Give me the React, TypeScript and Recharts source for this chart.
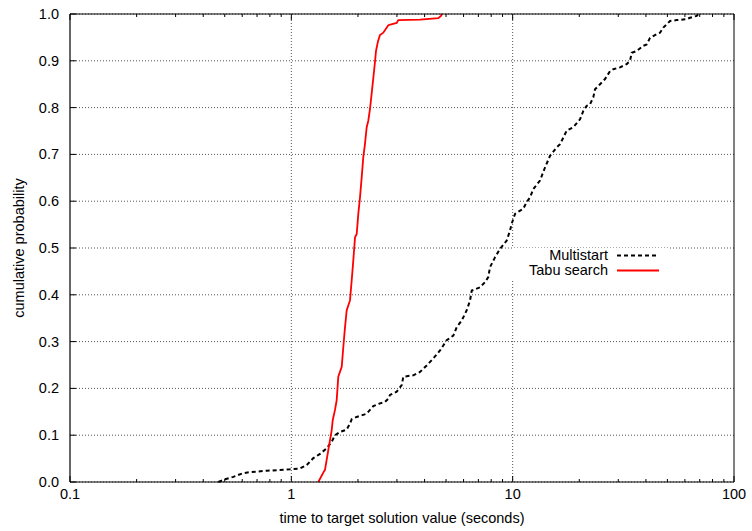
import { LineChart, Line, XAxis, YAxis, CartesianGrid, Legend, Label } from "recharts";

// time to target (seconds) and cumulative probability
const multistartTime = [
  0.468, 0.502, 0.547, 0.607, 0.651, 0.774, 0.986, 1.094, 1.173, 1.257, 1.348, 1.445,
  1.522, 1.575, 1.66, 1.779, 1.841, 1.874, 1.974, 2.19, 2.267, 2.346, 2.515, 2.65,
  2.742, 2.791, 2.993, 3.153, 3.206, 3.557, 3.813, 4.088, 4.38, 4.696, 5.035, 5.394,
  5.588, 5.886, 6.201, 6.419, 6.533, 7.119, 7.499, 7.761, 7.899, 8.32, 8.767, 9.399,
  9.727, 9.901, 10.25, 11.17, 11.57, 11.98, 12.4, 13.29, 14.0, 14.75, 15.81, 16.37,
  16.94, 17.55, 18.79, 20.15, 20.86, 21.61, 22.36, 23.14, 23.55, 24.81, 26.14, 27.54,
  28.5, 30.55, 32.75, 33.9, 34.5, 36.34, 38.93, 40.33, 41.74, 44.75, 46.31, 47.93,
  49.66, 51.4, 55.1, 61.14, 63.29, 67.85, 69.01,
];
const multistartProb = [
  0, 0.006, 0.011, 0.019, 0.021, 0.024, 0.027, 0.029, 0.036, 0.051, 0.06, 0.072,
  0.086, 0.1, 0.107, 0.112, 0.125, 0.134, 0.139, 0.146, 0.154, 0.162, 0.168, 0.171,
  0.178, 0.186, 0.193, 0.207, 0.225, 0.228, 0.235, 0.249, 0.264, 0.281, 0.303, 0.313,
  0.331, 0.345, 0.367, 0.388, 0.409, 0.416, 0.427, 0.438, 0.459, 0.48, 0.498, 0.516,
  0.537, 0.552, 0.573, 0.584, 0.598, 0.608, 0.626, 0.644, 0.672, 0.697, 0.715, 0.722,
  0.736, 0.751, 0.758, 0.775, 0.793, 0.804, 0.807, 0.822, 0.839, 0.85, 0.861, 0.878,
  0.882, 0.886, 0.893, 0.9, 0.917, 0.921, 0.932, 0.935, 0.949, 0.957, 0.96, 0.971,
  0.978, 0.985, 0.987, 0.989, 0.992, 0.996, 1.0,
];

const tabuTime = [
  1.324, 1.394, 1.419, 1.469, 1.522, 1.538, 1.575, 1.603, 1.63, 1.689, 1.717, 1.748,
  1.779, 1.841, 1.874, 1.905, 1.94, 1.974, 2.007, 2.043, 2.079, 2.114, 2.151, 2.19,
  2.227, 2.267, 2.339, 2.388, 2.413, 2.464, 2.515, 2.603, 2.742, 2.88, 2.993, 3.043,
  3.813, 4.613, 4.745, 4.795,
];
const tabuProb = [
  0, 0.02, 0.026, 0.068, 0.111, 0.132, 0.154, 0.175, 0.225, 0.246, 0.288, 0.331,
  0.367, 0.388, 0.431, 0.473, 0.523, 0.53, 0.573, 0.608, 0.651, 0.694, 0.722, 0.758,
  0.772, 0.797, 0.857, 0.898, 0.921, 0.942, 0.955, 0.96, 0.976, 0.979, 0.981, 0.987,
  0.988, 0.991, 0.996, 1.0,
];

const xMajorTicks = [0.1, 1, 10, 100];
const xMinorTicks = [
  0.2, 0.3, 0.4, 0.5, 0.6, 0.7, 0.8, 0.9,
  2, 3, 4, 5, 6, 7, 8, 9,
  20, 30, 40, 50, 60, 70, 80, 90,
];
const xGridValues = [1, 10];
const yTicks = [0, 0.1, 0.2, 0.3, 0.4, 0.5, 0.6, 0.7, 0.8, 0.9, 1.0];

const multistart = multistartTime.map((t, i) => ({ t, p: multistartProb[i] }));
const tabu = tabuTime.map((t, i) => ({ t, p: tabuProb[i] }));

const FONT = "'Liberation Sans', Arial, Helvetica, sans-serif";
const FS = 14.5;

const BottomTick = (props: any) => {
  const { x, y, payload } = props;
  const major = xMajorTicks.includes(payload.value);
  return (
    <g>
      <line x1={x} x2={x} y1={y} y2={y - (major ? 6 : 3)} stroke="#000" />
      {major && (
        <text x={x} y={y + 17} textAnchor="middle" fontFamily={FONT} fontSize={FS} fill="#000">
          {payload.value}
        </text>
      )}
    </g>
  );
};

const TopTick = (props: any) => {
  const { x, y, payload } = props;
  const major = xMajorTicks.includes(payload.value);
  return <line x1={x} x2={x} y1={y} y2={y + (major ? 6 : 3)} stroke="#000" />;
};

const LeftTick = (props: any) => {
  const { x, y, payload } = props;
  return (
    <g>
      <line x1={x} x2={x + 6} y1={y} y2={y} stroke="#000" />
      <text x={x - 11} y={y + 5} textAnchor="end" fontFamily={FONT} fontSize={FS} fill="#000">
        {payload.value.toFixed(1)}
      </text>
    </g>
  );
};

const RightTick = (props: any) => {
  const { x, y } = props;
  return <line x1={x} x2={x - 6} y1={y} y2={y} stroke="#000" />;
};

const KeyBox = (props: any) => {
  const items = props.payload || [];
  return (
    <div style={{ background: "#fff", width: 158, height: 31, fontFamily: FONT, fontSize: FS }}>
      {items.map((it: any) => (
        <div key={it.value} style={{ display: "flex", alignItems: "center", height: 15 }}>
          <span style={{ width: 96, textAlign: "right", color: "#000", lineHeight: "15px" }}>{it.value}</span>
          <svg width={44} height={15} style={{ marginLeft: 9 }}>
            <line
              x1={0}
              x2={42}
              y1={7.5}
              y2={7.5}
              stroke={it.color}
              strokeWidth={2}
              strokeDasharray={it.payload?.strokeDasharray}
            />
          </svg>
        </div>
      ))}
    </div>
  );
};

export default function App() {
  return (
    <div style={{ position: "absolute", left: 0, top: 0, width: 752, height: 531, background: "#fff" }}>
      <LineChart width={752} height={531} margin={{ top: 13, right: 17, bottom: 48, left: 69 }}>
        <CartesianGrid
          horizontalValues={yTicks}
          verticalValues={xGridValues}
          stroke="#555"
          strokeDasharray="1 2"
        />
        <XAxis
          dataKey="t"
          type="number"
          scale="log"
          domain={[0.1, 100]}
          allowDataOverflow
          ticks={[...xMajorTicks, ...xMinorTicks]}
          interval={0}
          height={1}
          tickSize={0}
          tickMargin={0}
          tickLine={false}
          tick={BottomTick}
          axisLine={{ stroke: "#000", strokeWidth: 1.2 }}
        >
          <Label
            content={(p: any) => (
              <text
                x={p.viewBox.x + p.viewBox.width / 2}
                y={p.viewBox.y + 41}
                textAnchor="middle"
                fontFamily={FONT}
                fontSize={FS}
                fill="#000"
              >
                time to target solution value (seconds)
              </text>
            )}
          />
        </XAxis>
        <XAxis
          xAxisId="top"
          orientation="top"
          dataKey="t"
          type="number"
          scale="log"
          domain={[0.1, 100]}
          allowDataOverflow
          ticks={[...xMajorTicks, ...xMinorTicks]}
          interval={0}
          height={1}
          tickSize={0}
          tickMargin={0}
          tickLine={false}
          tick={TopTick}
          axisLine={{ stroke: "#000", strokeWidth: 1 }}
        />
        <YAxis
          type="number"
          domain={[0, 1]}
          ticks={yTicks}
          interval={0}
          width={1}
          tickSize={0}
          tickMargin={0}
          tickLine={false}
          tick={LeftTick}
          axisLine={{ stroke: "#000", strokeWidth: 1.2 }}
        >
          <Label
            content={(p: any) => {
              const cy = p.viewBox.y + p.viewBox.height / 2;
              return (
                <text
                  x={24}
                  y={cy}
                  transform={`rotate(-90, 24, ${cy})`}
                  textAnchor="middle"
                  fontFamily={FONT}
                  fontSize={FS}
                  fill="#000"
                >
                  cumulative probability
                </text>
              );
            }}
          />
        </YAxis>
        <YAxis
          yAxisId="right"
          orientation="right"
          type="number"
          domain={[0, 1]}
          ticks={yTicks}
          interval={0}
          width={1}
          tickSize={0}
          tickMargin={0}
          tickLine={false}
          tick={RightTick}
          axisLine={{ stroke: "#000", strokeWidth: 1 }}
        />
        <Legend
          layout="horizontal"
          verticalAlign="middle"
          align="center"
          content={KeyBox}
          wrapperStyle={{ left: 512, top: 248, width: 158, height: 31 }}
        />
        <Line
          data={multistart}
          dataKey="p"
          name="Multistart"
          type="linear"
          stroke="#000"
          strokeWidth={2}
          strokeDasharray="4 3"
          dot={false}
          activeDot={false}
          isAnimationActive={false}
        />
        <Line
          data={tabu}
          dataKey="p"
          name="Tabu search"
          type="linear"
          stroke="#ff0000"
          strokeWidth={1.8}
          dot={false}
          activeDot={false}
          isAnimationActive={false}
        />
      </LineChart>
    </div>
  );
}
